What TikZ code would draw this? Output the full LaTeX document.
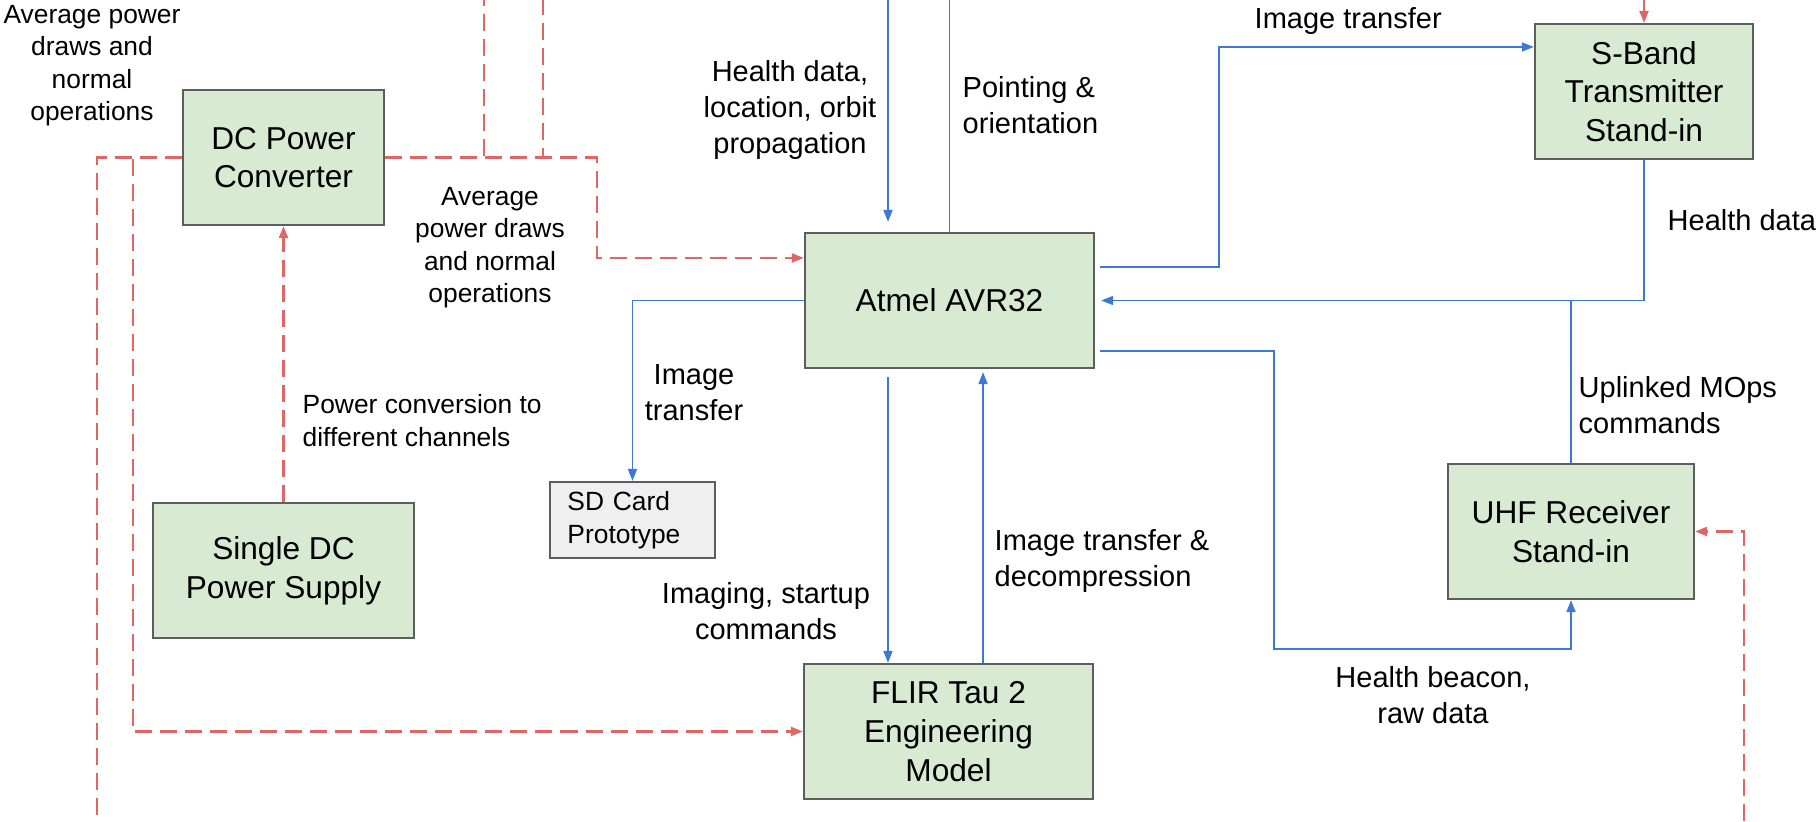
\documentclass[tikz,border=0pt]{standalone}
\usepackage{fontspec}
\setmainfont{Liberation Sans}
\usetikzlibrary{arrows.meta}

\begin{document}
\begin{tikzpicture}[x=0.01cm,y=-0.01cm,>={Triangle[length=0.12cm,width=0.09cm]}]
  % Colors
  \definecolor{blockfill}{HTML}{D9EAD3}
  \definecolor{blockedge}{HTML}{5E5E5E}
  \definecolor{cardfill}{HTML}{EFEFEF}
  \definecolor{datacolor}{HTML}{3C78D8}
  \definecolor{powercolor}{HTML}{E06666}

  % Styles
  \tikzstyle{block}=[draw=blockedge,fill=blockfill,line width=0.6pt,align=center,
    minimum height=1.35cm,inner sep=0pt,font=\fontsize{9}{11}\selectfont]
  \tikzstyle{card block}=[block,fill=cardfill,align=left,text width=1.3cm,
    inner xsep=0.175cm,minimum height=0.76cm,font=\fontsize{7.5}{9.3}\selectfont]
  \tikzstyle{data line}=[color=datacolor,line width=0.5pt]
  \tikzstyle{power line}=[color=powercolor,line width=0.65pt,
    dash pattern=on 0.17cm off 0.08cm]
  \tikzstyle{information text}=[inner sep=0pt,align=center,
    font=\fontsize{8.25}{10.25}\selectfont]
  \tikzstyle{small text}=[information text,font=\fontsize{7.5}{9.2}\selectfont]

  \useasboundingbox (0,0) rectangle (1818,821);

  % The blocks
  \node[block,minimum width=2.01cm] (dc) at (283.5,157.5) {DC Power\\Converter};
  \node[block,minimum width=2.61cm] (supply) at (283.5,570.5) {Single DC\\Power Supply};
  \node[block,minimum width=2.89cm] (avr) at (949.5,300.5) {Atmel AVR32};
  \node[block,minimum width=2.89cm] (flir) at (948.5,731.5) {FLIR Tau 2\\Engineering\\Model};
  \node[block,minimum width=2.18cm] (sband) at (1644,91.5) {S-Band\\Transmitter\\Stand-in};
  \node[block,minimum width=2.46cm] (uhf) at (1571,531.5) {UHF Receiver\\Stand-in};
  \node[card block] (sdcard) at (632.5,520) {SD Card\\Prototype};

  % Free ends and ports
  \coordinate (health in) at (888,0);
  \coordinate (pointing out) at (avr.north |- 0,0);
  \coordinate (power in s) at (sband.north |- 0,0);
  \coordinate (power down a) at (97,821);
  \coordinate (power down b) at (1744,821);
  \coordinate (power up a) at (484,0);
  \coordinate (power up b) at (543,0);
  \coordinate (tx out) at ([yshift=0.335cm]avr.east);
  \coordinate (beacon out) at ([yshift=-0.505cm]avr.east);
  \coordinate (tx in) at ([yshift=0.445cm]sband.west);
  \coordinate (power in avr) at ([yshift=0.425cm]avr.west);
  \coordinate (cmd out) at ([xshift=-0.615cm]avr.south);
  \coordinate (img in) at ([xshift=0.335cm]avr.south);

  % Data links
  \draw[data line,->,shorten >=0.1cm] (health in) -- (health in |- avr.north);
  \draw[data line] (avr.north) -- (pointing out);
  \draw[data line,->,shorten <=0.05cm] (tx out) -- ++(124,0) |- (tx in);
  \draw[data line,->,shorten >=0.06cm] (sband.south) |- (avr.east);
  \draw[data line] (uhf.north) -- (uhf.north |- avr.east);
  \draw[data line,->,shorten <=0.05cm] (beacon out) -- ++(179,0) -- ++(0,298) -| (uhf.south);
  \draw[data line,->] (avr.west) -| (sdcard.north);
  \draw[data line,->,shorten <=0.08cm] (cmd out) -- (cmd out |- flir.north);
  \draw[data line,->,shorten >=0.03cm] (img in |- flir.north) -- (img in);

  % Power links
  \draw[power line,->] (supply.north) -- (dc.south);
  \foreach \c in {power up a,power up b}
    \draw[power line] (dc.east) -| (\c);
  \draw[power line,->] (dc.east) -- ++(212,0) |- (power in avr);
  \draw[power line] (dc.west) -| (power down a);
  \draw[power line,->] (dc.west) -- ++(-49,0) |- (flir.west);
  \draw[power line,->] (power down b) |- (uhf.east);
  \draw[power line,solid,->] (power in s) -- (sband.north);

  % Labels
  \node[small text] (note power a) at (92,65.5) {Average power\\draws and\\normal\\operations};
  \node[small text] (note power b) at (490,247.5) {Average\\power draws\\and normal\\operations};
  \node[small text,anchor=west,align=left] (note conversion) at (302,420.5)
    {Power conversion to\\different channels};
  \node[information text] (note health) at (790,110) {Health data,\\location, orbit\\propagation};
  \node[information text,anchor=west,align=left] (note pointing) at (962,105)
    {Pointing \&\\orientation};
  \node[information text,anchor=west] (note tx) at (1254,21) {Image transfer};
  \node[information text,anchor=west] (note sband) at (1667,220) {Health data};
  \node[information text] (note sd) at (694,392.5) {Image\\transfer};
  \node[information text] (note imaging) at (766,611) {Imaging, startup\\commands};
  \node[information text,anchor=west,align=left] (note decomp) at (994,561)
    {Image transfer \&\\decompression};
  \node[information text,anchor=west,align=left] (note uplink) at (1578,405.5)
    {Uplinked MOps\\commands};
  \node[information text] (note beacon) at (1433,695) {Health beacon,\\raw data};
\end{tikzpicture}
\end{document}
